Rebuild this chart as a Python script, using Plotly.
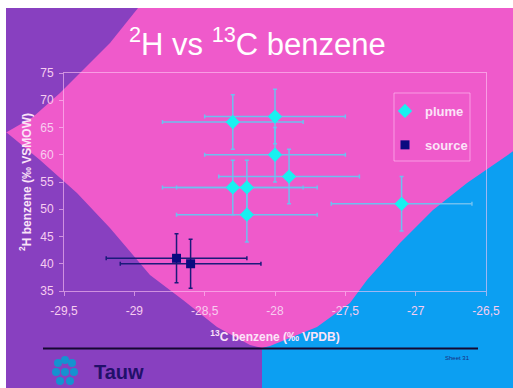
import plotly.graph_objects as go

# ---------------- data ----------------
plume_x = [-28.3, -28.0, -28.0, -27.9, -28.3, -28.2, -28.2, -27.1]
plume_y = [66, 67, 60, 56, 54, 54, 49, 51]
plume_xerr = [0.5, 0.5, 0.5, 0.5, 0.5, 0.5, 0.5, 0.5]
plume_yerr = [5, 5, 5, 5, 5, 5, 5, 5]

source_x = [-28.7, -28.6]
source_y = [41, 40]
source_xerr = [0.5, 0.5]
source_yerr = [4.5, 4.5]

x_ticks = [-29.5, -29.0, -28.5, -28.0, -27.5, -27.0, -26.5]
x_ticklabels = ["-29,5", "-29", "-28,5", "-28", "-27,5", "-27", "-26,5"]
y_ticks = [35, 40, 45, 50, 55, 60, 65, 70, 75]
y_ticklabels = ["35", "40", "45", "50", "55", "60", "65", "70", "75"]

# ---------------- layout geometry (pixels) ----------------
W, H = 513, 388
PL, PR, PT, PB = 64, 486, 73, 291   # plot area in pixels


def px(x):
    return (x - PL) / (PR - PL)


def py(y):
    return (PB - y) / (PB - PT)


def path(points):
    s = "M " + " L ".join(f"{px(a):.4f},{py(b):.4f}" for a, b in points) + " Z"
    return s


PINK = "#EF5ACB"
PURPLE = "#8840C0"
BLUE = "#0C9FF2"
LINE = "rgba(255,200,245,0.6)"
TICKTXT = "#F7CDF0"
FONT = "Liberation Sans, Arial, sans-serif"

shapes = []
# slide background
shapes.append(dict(type="rect", xref="paper", yref="paper", layer="below",
                   x0=px(6), x1=px(W + 2), y0=py(8), y1=py(H + 2),
                   fillcolor=PINK, line=dict(width=0)))
# upper-left purple
shapes.append(dict(type="path", xref="paper", yref="paper", layer="below",
                   path=path([(6, 8), (138, 8), (110, 43), (80, 73), (60, 93),
                              (33, 117), (7, 132), (6, 132)]),
                   fillcolor=PURPLE, line=dict(width=0)))
# lower-left purple
shapes.append(dict(type="path", xref="paper", yref="paper", layer="below",
                   path=path([(6, 132), (40, 160), (77, 193), (110, 228),
                              (150, 275), (183, 300), (217, 327), (250, 345),
                              (262, 348), (262, H + 2), (6, H + 2)]),
                   fillcolor=PURPLE, line=dict(width=0)))
# blue right
shapes.append(dict(type="path", xref="paper", yref="paper", layer="below",
                   path=path([(262, 348), (270, 346), (317, 327), (350, 303),
                              (367, 280), (400, 243), (433, 210), (467, 183),
                              (W + 2, 150), (W + 2, H + 2), (262, H + 2)]),
                   fillcolor=BLUE, line=dict(width=0)))
# legend frame
shapes.append(dict(type="rect", xref="paper", yref="paper", layer="above",
                   x0=px(394), x1=px(470), y0=py(93), y1=py(161),
                   fillcolor="rgba(0,0,0,0)", line=dict(color=LINE, width=1)))
# black footer line
shapes.append(dict(type="line", xref="paper", yref="paper",
                   x0=px(43), x1=px(478), y0=py(348.5), y1=py(348.5),
                   line=dict(color="#150830", width=2)))
# Tauw logo (approximation with circles)
for cx, cy in [(58, 363), (65, 360), (72, 363), (56, 372), (74, 372),
               (65, 372), (60, 381), (70, 381)]:
    shapes.append(dict(type="circle", xref="paper", yref="paper",
                       x0=px(cx - 4), x1=px(cx + 4), y0=py(cy + 4), y1=py(cy - 4),
                       fillcolor="#1592D0", line=dict(width=0)))

annotations = [
    dict(text="<sup>2</sup>H vs <sup>13</sup>C benzene", xref="paper", yref="paper",
         x=px(257), y=py(42), xanchor="center", yanchor="middle", showarrow=False,
         font=dict(family=FONT, size=31, color="white")),
    dict(text="<b>Tauw</b>", xref="paper", yref="paper",
         x=px(92), y=py(372), xanchor="left", yanchor="middle", showarrow=False,
         font=dict(family=FONT, size=20, color="#22106A")),
    dict(text="Sheet 31", xref="paper", yref="paper",
         x=px(457), y=py(358), xanchor="center", yanchor="middle", showarrow=False,
         font=dict(family=FONT, size=6, color="#1A2A80")),
]

fig = go.Figure()
fig.add_trace(go.Scatter(
    x=plume_x, y=plume_y, mode="markers", name="plume", legendgroup="a",
    marker=dict(symbol="diamond", size=11, color="#18F0F0", line=dict(width=0)),
    error_x=dict(type="data", array=plume_xerr, color="#6EC0F0", thickness=1.5, width=2),
    error_y=dict(type="data", array=plume_yerr, color="#6EC0F0", thickness=1.5, width=2),
))
fig.add_trace(go.Scatter(
    x=source_x, y=source_y, mode="markers", name="source", legendgroup="b",
    marker=dict(symbol="square", size=9, color="#0A0A80", line=dict(width=0)),
    error_x=dict(type="data", array=source_xerr, color="#1A1A7A", thickness=1.5, width=2),
    error_y=dict(type="data", array=source_yerr, color="#1A1A7A", thickness=1.5, width=2),
))

axis_common = dict(showgrid=False, zeroline=False, showline=True, mirror=True,
                   linecolor=LINE, linewidth=1, ticks="outside", ticklen=4,
                   tickcolor=LINE, tickfont=dict(family=FONT, size=12, color=TICKTXT))

fig.update_layout(
    width=W, height=H,
    margin=dict(l=PL, r=W - PR, t=PT, b=H - PB),
    paper_bgcolor="white",
    plot_bgcolor="rgba(0,0,0,0)",
    font=dict(family=FONT),
    shapes=shapes,
    annotations=annotations,
    showlegend=True,
    legend=dict(x=px(385), y=py(96), xanchor="left", yanchor="top",
                bgcolor="rgba(0,0,0,0)", borderwidth=0, tracegroupgap=14,
                traceorder="grouped",
                font=dict(family=FONT, size=13, color="#FBE4F8", weight="bold")),
    xaxis=dict(range=[-29.5, -26.5], tickvals=x_ticks, ticktext=x_ticklabels,
               ticklabelstandoff=5,
               title=dict(text="<b><sup>13</sup>C benzene (‰ VPDB)</b>",
                          font=dict(family=FONT, size=12, color="#FBE4F8"), standoff=15),
               **axis_common),
    yaxis=dict(range=[35, 75], tickvals=y_ticks, ticktext=y_ticklabels,
               ticklabelstandoff=3,
               title=dict(text="<b><sup>2</sup>H benzene (‰ VSMOW)</b>",
                          font=dict(family=FONT, size=12, color="#FBE4F8"), standoff=6),
               **axis_common),
)

fig.write_html("out.html",
               config={"displayModeBar": False},
               post_script="document.body.style.margin='0';document.body.style.overflow='hidden';")
